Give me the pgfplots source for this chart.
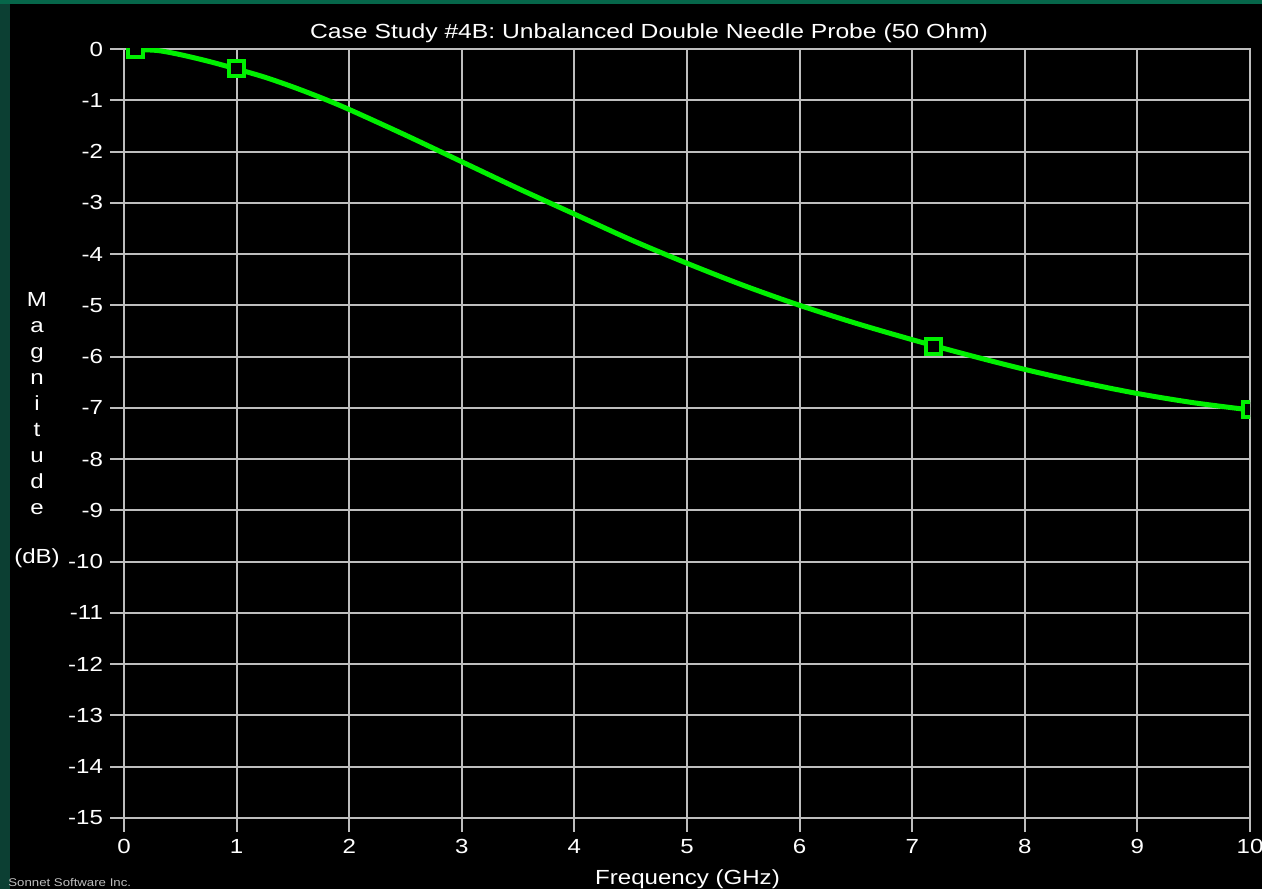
\documentclass[border=0pt]{standalone}
\usepackage{pgfplots}
\pgfplotsset{compat=1.18}
\usepackage{fontspec}
\setmainfont{Liberation Sans}[FakeStretch=1.18]
\definecolor{gridgray}{RGB}{190,190,190}
\definecolor{lime}{RGB}{0,240,0}
\definecolor{bggreen}{RGB}{12,63,51}
\definecolor{topgreen}{RGB}{6,102,74}
\begin{document}
\begin{tikzpicture}
\useasboundingbox (0,0) rectangle (631pt,444.5pt);
\fill[bggreen] (0,0) rectangle (631pt,444.5pt);
\fill[topgreen] (0,442.5pt) rectangle (631pt,444.5pt);
\fill[black] (5pt,0) rectangle (631pt,442.5pt);
\begin{axis}[
  at={(62pt,35.5pt)}, anchor=south west,
  scale only axis, width=563pt, height=384.5pt,
  xmin=0, xmax=10, ymin=-15, ymax=0,
  xtick={0,1,2,3,4,5,6,7,8,9,10},
  xticklabels={0,1,2,3,4,5,6,7,8,9,10},
  ytick={-15,-14,-13,-12,-11,-10,-9,-8,-7,-6,-5,-4,-3,-2,-1,0},
  yticklabels={-15,-14,-13,-12,-11,-10,-9,-8,-7,-6,-5,-4,-3,-2,-1,0},
  tick pos=left, tick align=outside, major tick length=7pt,
  grid=major, major grid style={line width=1pt, gridgray},
  axis line style={line width=1pt, gridgray},
  tick style={line width=1pt, gridgray},
  ticklabel style={font=\fontsize{10.2}{12}\selectfont, text=white},
  axis background/.style={fill=black},
  clip=true, clip marker paths=true,
]
\addplot[lime, line width=2.5pt, smooth] coordinates {
(0.1,-0.01) (0.3,-0.03) (0.5,-0.11) (0.75,-0.24) (1.0,-0.39) (1.25,-0.55)
(1.5,-0.74) (1.75,-0.95) (2.0,-1.18) (2.5,-1.68) (3.0,-2.20) (3.5,-2.72)
(4.0,-3.22) (4.5,-3.72) (5.0,-4.18) (5.5,-4.61) (6.0,-5.00) (6.5,-5.35)
(7.0,-5.67) (7.5,-5.97) (8.0,-6.25) (8.5,-6.50) (9.0,-6.72) (9.5,-6.90)
(10.0,-7.04)};
\addplot[only marks, mark=square*, mark size=3.75pt,
  mark options={draw=lime, fill=black, line width=2pt}] coordinates {
(0.1,-0.01) (1.0,-0.39) (7.19,-5.81) (10.0,-7.04)};
\end{axis}
\node[anchor=base, text=white, font=\fontsize{10.2}{12}\selectfont] at (324.5pt,425pt)
  {\addfontfeature{FakeStretch=1.21}Case Study \#4B: Unbalanced Double Needle Probe (50 Ohm)};
\node[anchor=base, text=white, font=\fontsize{10.2}{12}\selectfont] at (343.75pt,2.5pt)
  {Frequency (GHz)};
\foreach \c [count=\i from 0] in {M,a,g,n,i,t,u,d,e}
  \node[anchor=base, text=white, font=\fontsize{10.2}{12}\selectfont, inner sep=0pt]
    at (18.5pt, {291pt-12.95pt*\i}) {\c};
\node[anchor=base, text=white, font=\fontsize{10.2}{12}\selectfont, inner sep=0pt]
  at (18.5pt,162.5pt) {(dB)};
\node[anchor=base west, text=gridgray, font=\fontsize{5.6}{6}\selectfont, inner sep=0pt]
  at (4pt,1.5pt) {Sonnet Software Inc.};
\end{tikzpicture}
\end{document}
